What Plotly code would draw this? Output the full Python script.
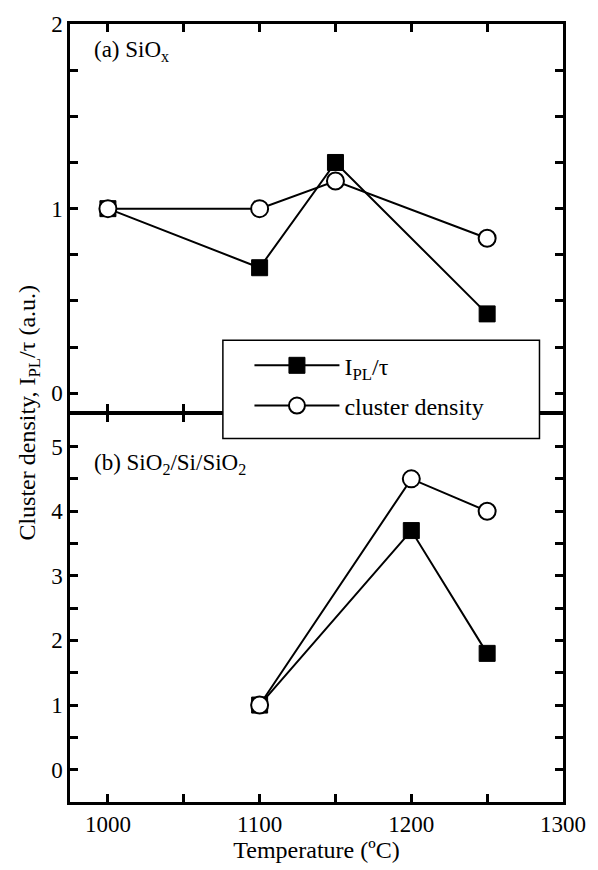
import plotly.graph_objects as go

# ---- data ----
temp_a = [1000, 1100, 1150, 1250]
ipl_a = [1.0, 0.68, 1.25, 0.43]
cluster_a = [1.0, 1.0, 1.15, 0.84]

temp_b = [1100, 1200, 1250]
ipl_b = [1.0, 3.7, 1.8]
cluster_b = [1.0, 4.5, 4.0]

x_tickvals = [1000, 1050, 1100, 1150, 1200, 1250, 1300]
x_ticktext = ["1000", "", "1100", "", "1200", "", "1300"]
ya_tickvals = [0, 0.25, 0.5, 0.75, 1, 1.25, 1.5, 1.75, 2]
ya_ticktext = ["0", "", "", "", "1", "", "", "", "2"]
yb_tickvals = [0, 0.5, 1, 1.5, 2, 2.5, 3, 3.5, 4, 4.5, 5]
yb_ticktext = ["0", "", "1", "", "2", "", "3", "", "4", "", "5"]

FONT = "Liberation Serif"
sq = dict(symbol="square", size=16, color="black", line=dict(color="black", width=1))
ci = dict(symbol="circle", size=17, color="white", line=dict(color="black", width=2))
ln = dict(color="black", width=2)

fig = go.Figure()
# top panel (a)
fig.add_trace(go.Scatter(x=temp_a, y=ipl_a, mode="lines+markers", marker=sq, line=ln,
                         xaxis="x2", yaxis="y2", name="I<sub>PL</sub>/τ",
                         legendgroup="g1", showlegend=True))
fig.add_trace(go.Scatter(x=temp_a, y=cluster_a, mode="lines+markers", marker=ci, line=ln,
                         xaxis="x2", yaxis="y2", name="cluster density",
                         legendgroup="g2", showlegend=True))
# bottom panel (b)
fig.add_trace(go.Scatter(x=temp_b, y=ipl_b, mode="lines+markers", marker=sq, line=ln,
                         xaxis="x", yaxis="y", showlegend=False))
fig.add_trace(go.Scatter(x=temp_b, y=cluster_b, mode="lines+markers", marker=ci, line=ln,
                         xaxis="x", yaxis="y", showlegend=False))

axis_common = dict(showline=True, linecolor="black", linewidth=2.5, mirror="ticks",
                   ticks="inside", tickcolor="#000000", tickwidth=2.5, ticklen=8,
                   showgrid=False, zeroline=False, tickmode="array",
                   tickfont=dict(family=FONT, size=23, color="black"))

fig.update_layout(
    width=598, height=870,
    margin=dict(l=70, r=25, t=15, b=63),
    plot_bgcolor="white", paper_bgcolor="white",
    font=dict(family=FONT, color="black"),
    xaxis=dict(domain=[0, 1], range=[975, 1300], tickvals=x_tickvals, ticktext=x_ticktext,
               anchor="y",
               title=dict(text="Temperature (ºC)", font=dict(family=FONT, size=24), standoff=4),
               **axis_common),
    xaxis2=dict(domain=[0, 1], range=[975, 1300], tickvals=x_tickvals, ticktext=x_ticktext,
                anchor="y2", showticklabels=False, **axis_common),
    yaxis=dict(domain=[0, 0.4984], range=[-0.5, 5.5], tickvals=yb_tickvals, ticktext=yb_ticktext,
               anchor="x", **axis_common),
    yaxis2=dict(domain=[0.5016, 1], range=[-0.1, 2], tickvals=ya_tickvals, ticktext=ya_ticktext,
                anchor="x2", **axis_common),
    legend=dict(x=0.364, y=0.5897, xanchor="left", yanchor="top",
                bgcolor="rgba(0,0,0,0)", borderwidth=0,
                font=dict(family=FONT, size=24, color="black"),
                itemwidth=85, tracegroupgap=6),
    shapes=[dict(type="rect", xref="paper", yref="paper", x0=0.3101, x1=0.9523,
                 y0=0.4672, y1=0.5934, fillcolor="white", line=dict(color="black", width=1.5),
                 layer="above")],
    annotations=[
        dict(text="Cluster density, I<sub>PL</sub>/τ (a.u.)", xref="paper", yref="paper",
             x=-0.084, y=0.5, textangle=-90, showarrow=False,
             font=dict(family=FONT, size=24), xanchor="center", yanchor="middle"),
        dict(text="(a) SiO<sub>x</sub>", xref="paper", yref="paper", x=0.044, y=0.965,
             showarrow=False, xanchor="left", yanchor="middle", font=dict(family=FONT, size=23)),
        dict(text="(b) SiO<sub>2</sub>/Si/SiO<sub>2</sub>", xref="paper", yref="paper", x=0.044, y=0.434,
             showarrow=False, xanchor="left", yanchor="middle", font=dict(family=FONT, size=23)),
    ],
)

fig.write_html("out.html")
